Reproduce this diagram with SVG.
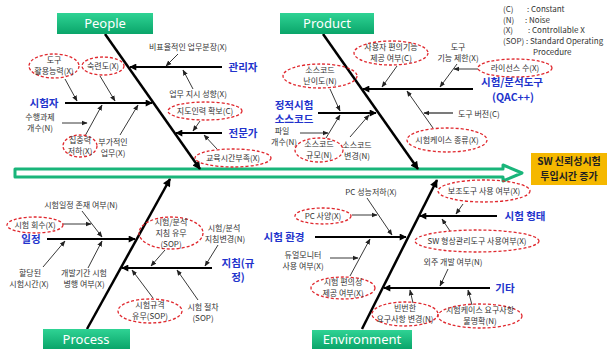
<svg xmlns="http://www.w3.org/2000/svg" width="612" height="351" viewBox="0 0 612 351">
<style>
.t{font-family:"Noto Sans CJK KR","Noto Sans",sans-serif;font-size:8px;fill:#333;text-anchor:middle}
.l{font-family:"Noto Sans CJK KR","Noto Sans",sans-serif;font-size:8px;fill:#333}
.b{font-family:"Noto Sans CJK KR","Noto Sans",sans-serif;font-size:10.5px;font-weight:bold;fill:#2233cc;text-anchor:middle}
.h{font-family:"Noto Sans","Noto Sans CJK KR",sans-serif;font-size:13px;fill:#fff;text-anchor:middle}
.o{font-family:"Noto Sans CJK KR",sans-serif;font-size:10px;font-weight:bold;fill:#222;text-anchor:middle}
.e{fill:none;stroke:#e0282e;stroke-width:1.3;stroke-dasharray:3 2}
.m{fill:none;stroke:#000;stroke-width:2.5;marker-end:url(#c)}
.s{fill:none;stroke:#000;stroke-width:1.8;marker-end:url(#b)}
.a{fill:none;stroke:#222;stroke-width:0.9;marker-end:url(#a)}
.hb{fill:url(#g)}
</style>
<defs>
<linearGradient id="g" x1="0" y1="0" x2="0" y2="1"><stop offset="0" stop-color="#2fd394"/><stop offset="1" stop-color="#0aa56a"/></linearGradient>
<marker id="a" viewBox="0 0 10 10" refX="9" refY="5" markerWidth="6" markerHeight="6" markerUnits="userSpaceOnUse" orient="auto"><path d="M0,1 L10,5 L0,9 z" fill="#222"/></marker>
<marker id="b" viewBox="0 0 10 10" refX="9" refY="5" markerWidth="8" markerHeight="7" markerUnits="userSpaceOnUse" orient="auto"><path d="M0,0 L10,5 L0,10 z" fill="#000"/></marker>
<marker id="c" viewBox="0 0 10 10" refX="9" refY="5" markerWidth="9" markerHeight="8" markerUnits="userSpaceOnUse" orient="auto"><path d="M0,0 L10,5 L0,10 z" fill="#000"/></marker>
</defs>
<rect width="612" height="351" fill="#fff"/>

<g id="spine">
<path d="M15,169 L503,169 L503,165 L522,173 L503,181 L503,177 L15,177 Z" fill="#fff" stroke="#19b57a" stroke-width="3" stroke-linejoin="round"/>
</g>

<g id="effect">
<rect x="531" y="153" width="76" height="32" fill="#f5b800"/>
<text class="o" x="569" y="165">SW 신뢰성시험</text>
<text class="o" x="569" y="180">투입시간 증가</text>
</g>

<g id="legend">
<text class="l" x="503" y="12">(C)</text><text class="l" x="527" y="12">: Constant</text>
<text class="l" x="503" y="23">(N)</text><text class="l" x="525" y="23">: Noise</text>
<text class="l" x="503" y="33">(X)</text><text class="l" x="528" y="33">: Controllable X</text>
<text class="l" x="503" y="44">(SOP) : Standard Operating</text>
<text class="l" x="533" y="55">Procedure</text>
</g>

<g id="connectors">
<path class="m" d="M105,34 L200,169"/>
<path class="m" d="M323,34 L418,169"/>
<path class="m" d="M87,329 L170,179"/>
<path class="m" d="M362,329 L437,180"/>

<path class="s" d="M222,67 L130,67"/>
<path class="s" d="M65,103 L152,103"/>
<path class="s" d="M222,133 L176,133"/>
<path class="s" d="M473,89 L363,89"/>
<path class="s" d="M318,113 L376,113"/>
<path class="s" d="M47,239 L135,239"/>
<path class="s" d="M212,268 L122,268"/>
<path class="s" d="M315,237 L406,237"/>
<path class="s" d="M497,216 L420,216"/>
<path class="s" d="M490,288 L384,288"/>

<path class="a" d="M178,54 L166,66"/>
<path class="a" d="M193,89 L183,70"/>
<path class="a" d="M200,121 L193,131"/>
<path class="a" d="M217,149 L204,135"/>
<path class="a" d="M65,79 L77,101"/>
<path class="a" d="M100,76 L115,101"/>
<path class="a" d="M62,123 L87,123"/>
<path class="a" d="M85,136 L102,105"/>
<path class="a" d="M120,135 L138,105"/>
<path class="a" d="M397,66 L382,87"/>
<path class="a" d="M457,64 L440,87"/>
<path class="a" d="M478,69 L454,69"/>
<path class="a" d="M330,89 L340,111"/>
<path class="a" d="M326,138 L340,115"/>
<path class="a" d="M300,133 L328,133"/>
<path class="a" d="M350,137 L369,115"/>
<path class="a" d="M433,128 L407,91"/>
<path class="a" style="stroke-width:1.2" d="M453,113 L424,113"/>
<path class="a" d="M82,211 L102,237"/>
<path class="a" d="M63,224 L91,224"/>
<path class="a" d="M43,267 L65,241"/>
<path class="a" d="M88,268 L102,241"/>
<path class="a" d="M165,250 L151,266"/>
<path class="a" d="M218,245 L205,266"/>
<path class="a" d="M153,298 L132,270"/>
<path class="a" d="M198,300 L177,270"/>
<path class="a" d="M367,198 L392,235"/>
<path class="a" d="M352,215 L377,215"/>
<path class="a" d="M330,258 L358,258"/>
<path class="a" d="M350,276 L370,239"/>
<path class="a" d="M463,204 L456,214"/>
<path class="a" d="M450,231 L442,219"/>
<path class="a" d="M448,269 L440,286"/>
<path class="a" d="M413,303 L410,290"/>
<path class="a" d="M472,305 L468,290"/>
</g>

<g id="people">
<rect class="hb" x="57" y="13" width="96" height="21"/>
<text class="h" x="105" y="28">People</text>
</g>
<g id="product">
<rect class="hb" x="280" y="13" width="94" height="21"/>
<text class="h" x="327" y="28">Product</text>
</g>
<g id="process">
<rect class="hb" x="43" y="329" width="87" height="20"/>
<text class="h" x="86" y="344">Process</text>
</g>
<g id="environment">
<rect class="hb" x="312" y="330" width="100" height="19"/>
<text class="h" x="362" y="344">Environment</text>
</g>

<g id="people-causes">
<ellipse class="e" cx="54" cy="66" rx="25" ry="12"/>
<text class="t" x="54" y="63">도구</text><text class="t" x="54" y="74">활용능력(X)</text>
<ellipse class="e" cx="103" cy="66" rx="21" ry="9"/>
<text class="t" x="103" y="69">숙련도(X)</text>
<text class="t" x="188" y="50">비표율적인 업무분장(X)</text>
<text class="b" x="243" y="71">관리자</text>
<text class="t" x="198" y="97">업무 지시 성향(X)</text>
<ellipse class="e" cx="205" cy="111" rx="37" ry="9"/>
<text class="t" x="205" y="114">지도인력 확보(C)</text>
<text class="b" x="243" y="137">전문가</text>
<ellipse class="e" cx="233" cy="158" rx="38" ry="9"/>
<text class="t" x="233" y="161">교육시간부족(X)</text>
<text class="b" x="44" y="107">시험자</text>
<text class="t" x="40" y="120">수행과제</text><text class="t" x="40" y="131">개수(N)</text>
<ellipse class="e" cx="80" cy="146" rx="17" ry="11"/>
<text class="t" x="80" y="143">집중력</text><text class="t" x="80" y="154">저하(X)</text>
<text class="t" x="113" y="145">부가적인</text><text class="t" x="113" y="156">업무(X)</text>
</g>

<g id="product-causes">
<ellipse class="e" cx="391" cy="53" rx="37" ry="12"/>
<text class="t" x="391" y="50">사용자 편의기능</text><text class="t" x="391" y="61">제공 여부(C)</text>
<ellipse class="e" cx="320" cy="76" rx="37" ry="12"/>
<text class="t" x="320" y="73">소스코드</text><text class="t" x="320" y="84">난이도(N)</text>
<text class="t" x="458" y="50">도구</text><text class="t" x="458" y="61">기능 제한(X)</text>
<ellipse class="e" cx="515" cy="68" rx="37" ry="9"/>
<text class="t" x="515" y="71">라이선스 수(X)</text>
<text class="b" x="512" y="86">시험/분석도구</text><text class="b" x="513" y="101">(QAC++)</text>
<text class="b" x="294" y="109">정적시험</text><text class="b" x="294" y="123">소스코드</text>
<text class="t" x="282" y="134">파일</text><text class="t" x="284" y="145">개수(N)</text>
<ellipse class="e" cx="319" cy="150" rx="24" ry="12"/>
<text class="t" x="319" y="147">소스코드</text><text class="t" x="319" y="158">규모(N)</text>
<text class="t" x="357" y="148">소스코드</text><text class="t" x="357" y="159">변경(N)</text>
<text class="l" x="458" y="117">도구 버전(C)</text>
<ellipse class="e" cx="447" cy="140" rx="40" ry="12"/>
<text class="t" x="447" y="143">시험케이스 종류(X)</text>
</g>

<g id="process-causes">
<text class="t" x="81" y="208">시험일정 존재 여부(N)</text>
<ellipse class="e" cx="35" cy="225" rx="28" ry="8"/>
<text class="t" x="35" y="228">시험 회수(X)</text>
<text class="b" x="31" y="243">일정</text>
<text class="t" x="30" y="276">할당된</text><text class="t" x="29" y="287">시험시간(X)</text>
<text class="t" x="84" y="276">개발기간 시험</text><text class="t" x="84" y="287">병행 여부(X)</text>
<ellipse class="e" cx="171" cy="233" rx="32" ry="16"/>
<text class="t" x="171" y="225">시험/분석</text><text class="t" x="171" y="236">지침 유무</text><text class="t" x="171" y="247">(SOP)</text>
<text class="t" x="224" y="231">시험/분석</text><text class="t" x="225" y="242">지침변경(N)</text>
<text class="b" x="238" y="267">지침(규</text><text class="b" x="238" y="281">정)</text>
<ellipse class="e" cx="150" cy="311" rx="32" ry="12"/>
<text class="t" x="150" y="308">시험규격</text><text class="t" x="150" y="319">유무(SOP)</text>
<text class="t" x="203" y="310">시험 절차</text><text class="t" x="203" y="321">(SOP)</text>
</g>

<g id="environment-causes">
<text class="t" x="371" y="195">PC 성능저하(X)</text>
<ellipse class="e" cx="323" cy="216" rx="28" ry="8"/>
<text class="t" x="323" y="219">PC 사양(X)</text>
<text class="b" x="284" y="241">시험 환경</text>
<text class="t" x="303" y="258">듀얼모니터</text><text class="t" x="303" y="269">사용 여부(X)</text>
<ellipse class="e" cx="343" cy="288" rx="32" ry="11"/>
<text class="t" x="343" y="285">시험 편의성</text><text class="t" x="343" y="296">제공 여부(X)</text>
<ellipse class="e" cx="484" cy="191" rx="46" ry="11"/>
<text class="t" x="484" y="194">보조도구 사용 여부(X)</text>
<text class="b" x="525" y="220">시험 형태</text>
<ellipse class="e" cx="477" cy="241" rx="62" ry="11"/>
<text class="t" x="477" y="244">SW 형상관리도구 사용여부(X)</text>
<text class="t" x="453" y="265">외주 개발 여부(N)</text>
<text class="b" x="505" y="292">기타</text>
<ellipse class="e" cx="405" cy="314" rx="33" ry="12"/>
<text class="t" x="405" y="311">빈번한</text><text class="t" x="405" y="322">요구사항 변경(N)</text>
<ellipse class="e" cx="480" cy="316" rx="42" ry="12"/>
<text class="t" x="480" y="313">시험케이스 요구사항</text><text class="t" x="480" y="324">불명확(N)</text>
</g>
</svg>
